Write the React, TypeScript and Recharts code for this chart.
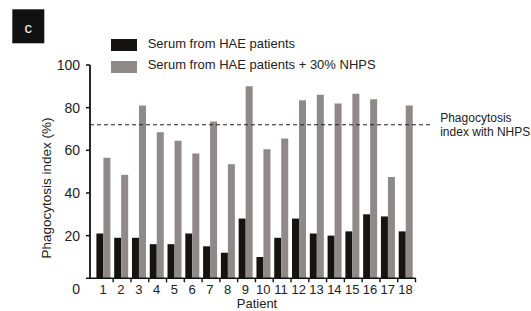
import React from 'react';
import { BarChart, Bar, XAxis, YAxis, ReferenceLine, Legend } from 'recharts';

const patients = ['1', '2', '3', '4', '5', '6', '7', '8', '9', '10', '11', '12', '13', '14', '15', '16', '17', '18'];
const serumHAE = [21, 19, 19, 16, 16, 21, 15, 12, 28, 10, 19, 28, 21, 20, 22, 30, 29, 22];
const serumHAEPlusNHPS = [56.5, 48.5, 81, 68.5, 64.5, 58.5, 73.5, 53.5, 90, 60.5, 65.5, 83.5, 86, 82, 86.5, 84, 47.5, 81];
const yTicks = [0, 20, 40, 60, 80, 100];
const nhpsIndex = 72;

const seriesNames = ['Serum from HAE patients', 'Serum from HAE patients + 30% NHPS'];
const BLACK = '#151410';
const GRAY = '#8f8a87';
const FONT = '"Liberation Sans", Arial, Helvetica, sans-serif';

const data = patients.map((p, i) => ({ patient: p, hae: serumHAE[i], haeNhps: serumHAEPlusNHPS[i] }));

const BAND = (414.9 - 94.8) / patients.length;

const XTick = (props: any) => {
  const { x, y, payload } = props;
  const tx = x + BAND / 2 + 0.6;
  return (
    <g>
      <line x1={tx} x2={tx} y1={y} y2={y + 4} stroke="#111" strokeWidth={1.4} />
      <text x={x - 0.5} y={y + 11.3} textAnchor="middle" dominantBaseline="central" fontSize={13} fontFamily={FONT} fill="#222">
        {payload.value}
      </text>
    </g>
  );
};

const YTick = (props: any) => {
  const { x, y, payload } = props;
  const dy = payload.value === 0 ? 11 : 0;
  return (
    <text x={x - 1} y={y + dy} textAnchor="end" dominantBaseline="central" fontSize={14} fontFamily={FONT} fill="#222">
      {payload.value}
    </text>
  );
};

const LegendContent = (props: any) => {
  const items = props.payload || [];
  return (
    <div style={{ fontFamily: FONT, fontSize: 13, color: '#222' }}>
      {items.map((it: any, i: number) => (
        <div key={i} style={{ display: 'flex', alignItems: 'center', height: 21.5, whiteSpace: 'nowrap' }}>
          <span style={{ display: 'inline-block', width: 26, height: 12, background: it.color, marginRight: 10.7, marginTop: i === 0 ? 3 : 4 }} />
          <span>{it.value}</span>
        </div>
      ))}
    </div>
  );
};

const NhpsLine = (p: any) => (
  <g>
    <line x1={p.x1} y1={p.y1} x2={p.x2 + 14.5} y2={p.y2} stroke="#222" strokeWidth={1.1} strokeDasharray="4 3" />
    <text x={p.x2 + 24.5} y={p.y1 - 6.8} dominantBaseline="central" fontSize={12} fontFamily={FONT} fill="#222">Phagocytosis</text>
    <text x={p.x2 + 24.5} y={p.y1 + 7.2} dominantBaseline="central" fontSize={12} fontFamily={FONT} fill="#222">index with NHPS</text>
  </g>
);

export default function App() {
  return (
    <div style={{ position: 'absolute', left: 0, top: 0, width: 531, height: 311, background: '#fff' }}>
      <BarChart
        width={531}
        height={311}
        data={data}
        margin={{ top: 65, right: 115.3, bottom: 2.7, left: 30 }}
        barCategoryGap={1.6}
        barGap={0}
      >
        <XAxis
          dataKey="patient"
          interval={0}
          height={30}
          padding={{ left: 4.8, right: 0.8 }}
          axisLine={{ stroke: '#111', strokeWidth: 1.6 }}
          tickLine={false}
          tickSize={0}
          tickMargin={0}
          tick={XTick}
        />
        <YAxis
          width={60}
          domain={[0, 100]}
          ticks={yTicks}
          interval={0}
          axisLine={{ stroke: '#111', strokeWidth: 1.8 }}
          tickLine={{ stroke: '#111', strokeWidth: 1.5 }}
          tickSize={4}
          tickMargin={5}
          tick={YTick}
        />
        <Legend
          layout="vertical"
          align="center"
          verticalAlign="middle"
          wrapperStyle={{ top: 32.5, left: 111, width: 'auto', height: 'auto' }}
          content={LegendContent}
        />
        <Bar dataKey="hae" name={seriesNames[0]} fill={BLACK} isAnimationActive={false} />
        <Bar dataKey="haeNhps" name={seriesNames[1]} fill={GRAY} isAnimationActive={false} />
        <ReferenceLine y={nhpsIndex} ifOverflow="visible" shape={NhpsLine} />
      </BarChart>
      <svg width={531} height={311} style={{ position: 'absolute', left: 0, top: 0, pointerEvents: 'none' }}>
        <rect x={12.3} y={9.3} width={32} height={34} fill="#111" />
        <text x={28.3} y={27} textAnchor="middle" dominantBaseline="central" fontSize={15} fontFamily={FONT} fill="#fff">c</text>
        <text transform="translate(46,188) rotate(-90)" textAnchor="middle" dominantBaseline="central" fontSize={13.5} fontFamily={FONT} fill="#222">
          Phagocytosis index (%)
        </text>
        <text x={257} y={303.6} textAnchor="middle" dominantBaseline="central" fontSize={13} fontFamily={FONT} fill="#222">Patient</text>
      </svg>
    </div>
  );
}
